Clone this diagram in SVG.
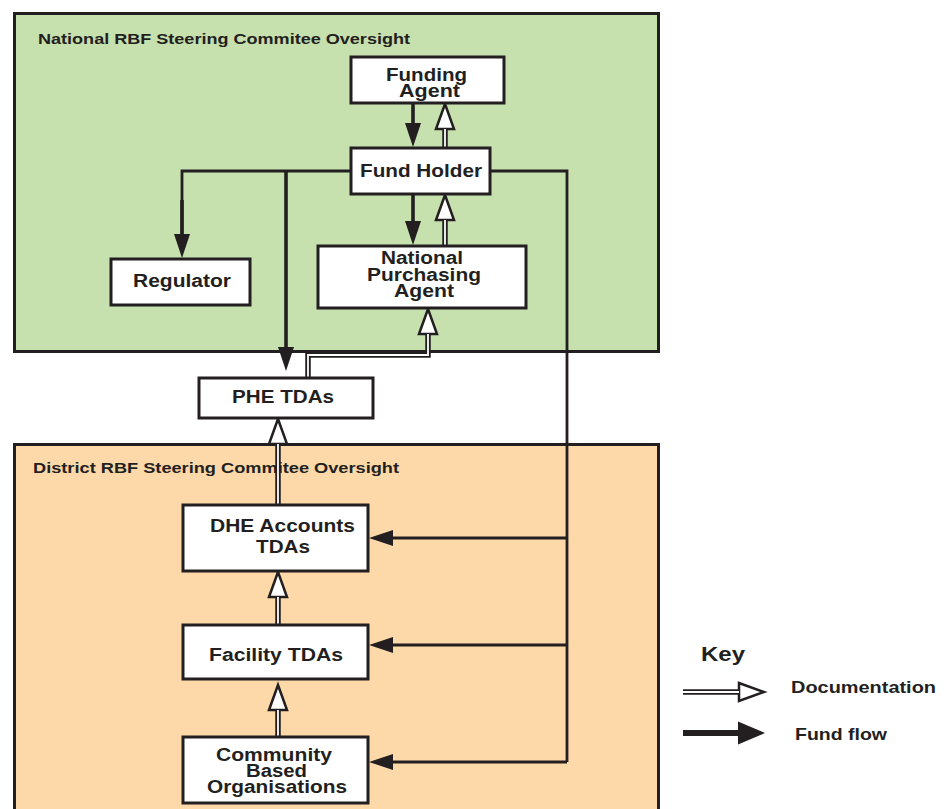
<svg xmlns="http://www.w3.org/2000/svg" width="947" height="809" viewBox="0 0 947 809">
  <style>
    text { font-family: "Liberation Sans", Arial, Helvetica, sans-serif; font-weight: bold; fill: #231f20; }
    .node rect { fill: #ffffff; stroke: #231f20; stroke-width: 3; }
    .label { font-size: 18px; text-anchor: middle; }
    .title { font-size: 15px; }
    .fund { fill: none; stroke: #231f20; stroke-width: 3.6; }
    .fund-thin { fill: none; stroke: #231f20; stroke-width: 2.8; }
    .doc-outer { fill: none; stroke: #231f20; stroke-width: 5.5; }
    .doc-inner { fill: none; stroke: #ffffff; stroke-width: 1.8; }
  </style>
  <defs>
    <marker id="fundHead" markerUnits="userSpaceOnUse" viewBox="0 -10 26 20" refX="0" refY="0" markerWidth="26" markerHeight="20" orient="auto" overflow="visible">
      <path d="M0,-8 L24,0 L0,8 Z" fill="#231f20"/>
    </marker>
    <marker id="docHead" markerUnits="userSpaceOnUse" viewBox="0 -11 28 22" refX="0" refY="0" markerWidth="28" markerHeight="22" orient="auto" overflow="visible">
      <path d="M0,-9 L25,0 L0,9 Z" fill="#ffffff" stroke="#231f20" stroke-width="2.5" stroke-linejoin="miter"/>
    </marker>
    <marker id="fundKeyHead" markerUnits="userSpaceOnUse" viewBox="0 -12 28 24" refX="0" refY="0" markerWidth="28" markerHeight="24" orient="auto" overflow="visible">
      <path d="M0,-11.5 L27,0 L0,11.5 Z" fill="#231f20"/>
    </marker>
  </defs>

  <!-- oversight panels -->
  <g id="national-panel">
    <rect x="14.5" y="13.5" width="644" height="338" fill="#c6e0ae" stroke="#231f20" stroke-width="3"/>
    <text class="title" x="38" y="44" textLength="372" lengthAdjust="spacingAndGlyphs">National RBF Steering Commitee Oversight</text>
  </g>
  <g id="district-panel">
    <rect x="14.5" y="444.5" width="644" height="370" fill="#fdd8a8" stroke="#231f20" stroke-width="3"/>
    <text class="title" x="33" y="473" textLength="366" lengthAdjust="spacingAndGlyphs">District RBF Steering Commitee Oversight</text>
  </g>

  <!-- connectors -->
  <g id="connectors">
    <!-- fund flow -->
    <path class="fund" d="M413,104 V123" marker-end="url(#fundHead)"/>
    <path class="fund" d="M413,195 V221" marker-end="url(#fundHead)"/>
    <path class="fund-thin" d="M350,171 H182 V234" marker-end="url(#fundHead)"/>
    <path class="fund" d="M182,200 V234"/>
    <path class="fund" d="M286,171 V347" marker-end="url(#fundHead)"/>
    <path class="fund-thin" d="M491,171 H567 V762"/>
    <path class="fund-thin" d="M567,538 H393" marker-end="url(#fundHead)"/>
    <path class="fund-thin" d="M567,645 H393" marker-end="url(#fundHead)"/>
    <path class="fund-thin" d="M567,762 H393" marker-end="url(#fundHead)"/>

    <!-- documentation -->
    <path class="doc-outer" d="M445,147 V129" marker-end="url(#docHead)"/>
    <path class="doc-inner" d="M445,147 V129"/>
    <path class="doc-outer" d="M445,245 V220" marker-end="url(#docHead)"/>
    <path class="doc-inner" d="M445,245 V220"/>
    <path class="doc-outer" d="M308,377 V355 H428 V334" marker-end="url(#docHead)"/>
    <path class="doc-inner" d="M308,377 V355 H428 V334"/>
    <path class="doc-outer" d="M278,504 V444" marker-end="url(#docHead)"/>
    <path class="doc-inner" d="M278,504 V444"/>
    <path class="doc-outer" d="M278,624 V597" marker-end="url(#docHead)"/>
    <path class="doc-inner" d="M278,624 V597"/>
    <path class="doc-outer" d="M278,736 V710" marker-end="url(#docHead)"/>
    <path class="doc-inner" d="M278,736 V710"/>
  </g>

  <!-- nodes -->
  <g id="funding-agent" class="node">
    <rect x="351" y="57" width="153" height="46"/>
    <text class="label" x="426.5" y="81" textLength="81" lengthAdjust="spacingAndGlyphs">Funding</text>
    <text class="label" x="429.5" y="97" textLength="61" lengthAdjust="spacingAndGlyphs">Agent</text>
  </g>
  <g id="fund-holder" class="node">
    <rect x="351" y="148" width="139" height="46"/>
    <text class="label" x="421" y="177" textLength="122" lengthAdjust="spacingAndGlyphs">Fund Holder</text>
  </g>
  <g id="regulator" class="node">
    <rect x="111" y="259" width="139" height="46"/>
    <text class="label" x="182" y="287" textLength="98" lengthAdjust="spacingAndGlyphs">Regulator</text>
  </g>
  <g id="national-purchasing-agent" class="node">
    <rect x="318" y="246" width="208" height="62"/>
    <text class="label" x="422" y="264" textLength="82" lengthAdjust="spacingAndGlyphs">National</text>
    <text class="label" x="424" y="281" textLength="114" lengthAdjust="spacingAndGlyphs">Purchasing</text>
    <text class="label" x="424" y="297" textLength="60" lengthAdjust="spacingAndGlyphs">Agent</text>
  </g>
  <g id="phe-tdas" class="node">
    <rect x="199" y="378" width="174" height="40"/>
    <text class="label" x="283" y="403" textLength="102" lengthAdjust="spacingAndGlyphs">PHE TDAs</text>
  </g>
  <g id="dhe-accounts-tdas" class="node">
    <rect x="183" y="505" width="185" height="66"/>
    <text class="label" x="282.5" y="532" textLength="145" lengthAdjust="spacingAndGlyphs">DHE Accounts</text>
    <text class="label" x="283" y="553" textLength="54" lengthAdjust="spacingAndGlyphs">TDAs</text>
  </g>
  <g id="facility-tdas" class="node">
    <rect x="183" y="625" width="185" height="54"/>
    <text class="label" x="276" y="661" textLength="134" lengthAdjust="spacingAndGlyphs">Facility TDAs</text>
  </g>
  <g id="community-based-organisations" class="node">
    <rect x="183" y="737" width="185" height="66"/>
    <text class="label" x="274" y="761" textLength="116" lengthAdjust="spacingAndGlyphs">Community</text>
    <text class="label" x="276.5" y="777" textLength="61" lengthAdjust="spacingAndGlyphs">Based</text>
    <text class="label" x="277" y="793" textLength="140" lengthAdjust="spacingAndGlyphs">Organisations</text>
  </g>

  <!-- key -->
  <g id="key">
    <text x="701" y="661" style="font-size:21px" textLength="44" lengthAdjust="spacingAndGlyphs">Key</text>
    <path class="doc-outer" d="M683,692 H739" marker-end="url(#docHead)"/>
    <path class="doc-inner" d="M683,692 H739"/>
    <text x="791" y="693" style="font-size:16.5px" textLength="145" lengthAdjust="spacingAndGlyphs">Documentation</text>
    <path class="fund" style="stroke-width:6" d="M683,733 H738" marker-end="url(#fundKeyHead)"/>
    <text x="795" y="740" style="font-size:16.5px" textLength="92" lengthAdjust="spacingAndGlyphs">Fund flow</text>
  </g>
</svg>
